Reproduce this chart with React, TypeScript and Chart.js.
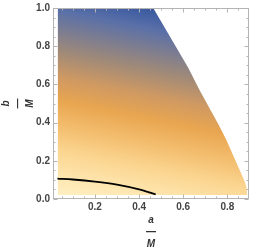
import React, { useEffect, useRef } from "react";
import { Chart, registerables } from "chart.js";

Chart.register(...registerables);

// Region boundary (upper/right edge), filled down to regionFloor
const regionA = [0.031, 0.464, 0.622, 0.675, 0.761, 0.795, 0.828, 0.858, 0.879, 0.888, 0.889];
const regionB = [1.0, 1.0, 0.688, 0.568, 0.387, 0.31, 0.224, 0.145, 0.09, 0.055, 0.021];
const regionFloor = 0.021;

// Black curve
const curveA = [0.03, 0.1, 0.2, 0.3, 0.4, 0.475];
const curveB = [0.107, 0.102, 0.091, 0.075, 0.05, 0.024];

// Tick labels
const xMajorTicks = [0.2, 0.4, 0.6, 0.8];
const yMajorTicks = [0.0, 0.2, 0.4, 0.6, 0.8, 1.0];
const minorStep = 0.05;

// Colour gradient (data-space endpoints and stops)
const gradStart = [-0.208, 1.159];
const gradEnd = [-0.391, 0.0955];
const gradStops: [number, string][] = [
  [0, "#35569f"],
  [0.105, "#5a70a8"],
  [0.3, "#a08a78"],
  [0.42, "#cf9962"],
  [0.533, "#e9a650"],
  [0.65, "#f3bd6e"],
  [0.767, "#fbd590"],
  [0.9, "#fee7b2"],
  [1, "#fff1c6"],
];

const X_MIN = 0.01;
const X_MAX = 0.898;
const Y_MIN = 0;
const Y_MAX = 1;

const framePlugin = {
  id: "frame",
  afterDatasetsDraw(chart: any) {
    const { ctx, chartArea, scales } = chart;
    const { left, right, top, bottom } = chartArea;
    const xs = scales.x;
    const ys = scales.y;
    ctx.save();
    ctx.strokeStyle = "#b4b4b4";
    ctx.lineWidth = 1;
    const L = Math.round(left) + 0.5;
    const R = Math.round(right) - 0.5;
    const T = Math.round(top) + 0.5;
    const B = Math.round(bottom) - 0.5;
    ctx.strokeRect(L, T, R - L, B - T);
    ctx.beginPath();
    for (let i = 1; i * minorStep < X_MAX; i++) {
      const v = i * minorStep;
      if (v < X_MIN) continue;
      const major = Math.abs(v / 0.2 - Math.round(v / 0.2)) < 1e-6;
      const len = major ? 4 : 2;
      const px = Math.round(xs.getPixelForValue(v)) + 0.5;
      ctx.moveTo(px, B);
      ctx.lineTo(px, B - len);
      ctx.moveTo(px, T);
      ctx.lineTo(px, T + len);
    }
    for (let i = 0; i * minorStep <= Y_MAX + 1e-9; i++) {
      const v = i * minorStep;
      const major = Math.abs(v / 0.2 - Math.round(v / 0.2)) < 1e-6;
      const len = major ? 4 : 2;
      const py = Math.round(ys.getPixelForValue(v)) + 0.5;
      ctx.moveTo(L, py);
      ctx.lineTo(L + len, py);
      ctx.moveTo(R, py);
      ctx.lineTo(R - len, py);
    }
    ctx.stroke();
    ctx.restore();
  },
};

export default function App() {
  const ref = useRef<HTMLCanvasElement>(null);

  useEffect(() => {
    document.body.style.margin = "0";
    const canvas = ref.current!;
    const tickFont = { family: "'Liberation Sans', Arial, sans-serif", size: 10, weight: "bold" as const, lineHeight: 1 };
    const titleFont = { family: "'Liberation Sans', Arial, sans-serif", size: 10, weight: "bold" as const, style: "italic" as const, lineHeight: 1.2 };

    const chart = new Chart(canvas, {
      type: "line",
      data: {
        datasets: [
          {
            label: "curve",
            data: curveA.map((a, i) => ({ x: a, y: curveB[i] })),
            borderColor: "#000000",
            borderWidth: 1.8,
            pointRadius: 0,
            fill: false,
            cubicInterpolationMode: "monotone",
            order: 0,
          },
          {
            label: "region",
            data: regionA.map((a, i) => ({ x: a, y: regionB[i] })),
            borderColor: "rgba(0,0,0,0)",
            borderWidth: 0,
            pointRadius: 0,
            tension: 0,
            fill: { value: regionFloor },
            order: 1,
            backgroundColor: (context: any) => {
              const c = context.chart;
              const { chartArea, scales } = c;
              if (!chartArea || !scales.x) return "#e9a650";
              const g = c.ctx.createLinearGradient(
                scales.x.getPixelForValue(gradStart[0]),
                scales.y.getPixelForValue(gradStart[1]),
                scales.x.getPixelForValue(gradEnd[0]),
                scales.y.getPixelForValue(gradEnd[1])
              );
              gradStops.forEach(([o, col]) => g.addColorStop(o, col));
              return g;
            },
          },
        ],
      },
      options: {
        animation: false,
        responsive: false,
        devicePixelRatio: 1,
        layout: { padding: { top: 5, right: 4, left: 0, bottom: 0 } },
        plugins: {
          legend: { display: false },
          tooltip: { enabled: false },
        },
        scales: {
          x: {
            type: "linear",
            min: X_MIN,
            max: X_MAX,
            afterBuildTicks: (s: any) => {
              s.ticks = xMajorTicks.map((v) => ({ value: v }));
            },
            afterFit: (s: any) => {
              s.height = 51;
            },
            ticks: {
              callback: (v: any) => Number(v).toFixed(1),
              font: tickFont,
              color: "#444444",
              padding: 3,
              maxRotation: 0,
              autoSkip: false,
            },
            grid: { display: false, drawTicks: false },
            border: { display: false },
            title: {
              display: true,
              text: ["a", "—", "M"],
              font: titleFont,
              color: "#333333",
              padding: { top: 0, bottom: 0 },
            },
          },
          y: {
            type: "linear",
            min: Y_MIN,
            max: Y_MAX,
            afterBuildTicks: (s: any) => {
              s.ticks = yMajorTicks.map((v) => ({ value: v }));
            },
            afterFit: (s: any) => {
              s.width = 53;
            },
            ticks: {
              callback: (v: any) => Number(v).toFixed(1),
              font: tickFont,
              color: "#444444",
              padding: 3,
              autoSkip: false,
            },
            grid: { display: false, drawTicks: false },
            border: { display: false },
            title: {
              display: true,
              text: ["b", "—", "M"],
              font: titleFont,
              color: "#333333",
              padding: { top: 0, bottom: 0 },
            },
          },
        },
      },
      plugins: [framePlugin],
    });
    return () => chart.destroy();
  }, []);

  return <canvas ref={ref} width={253} height={250} style={{ display: "block" }} />;
}
